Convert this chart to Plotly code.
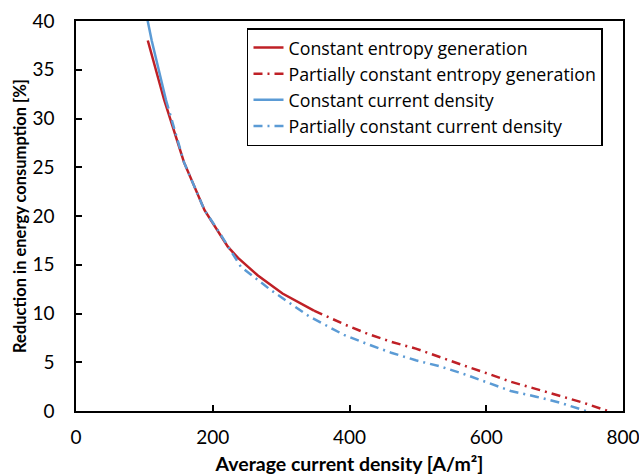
import plotly.graph_objects as go

# Data
ceg_x = [105, 129, 158, 188, 222, 237, 266, 302, 348]
ceg_y = [38.0, 31.9, 25.5, 20.6, 16.85, 15.7, 13.9, 12.05, 10.3]

pceg_x = [348, 392, 427, 461, 497, 531, 566, 601, 636, 671, 707, 742, 778]
pceg_y = [10.3, 8.9, 7.9, 7.1, 6.4, 5.6, 4.7, 3.86, 3.0, 2.3, 1.6, 0.85, 0.0]

ccd_x = [104, 110.7, 131.6]
ccd_y = [40.3, 38.0, 31.9]

pccd_x = [131.6, 158, 188, 207, 241, 285, 341, 392, 427, 461, 497, 531, 567, 602, 636, 673, 708, 746]
pccd_y = [31.9, 25.5, 20.6, 18.6, 14.8, 12.4, 9.7, 7.8, 6.84, 5.98, 5.2, 4.6, 3.8, 2.94, 2.05, 1.47, 0.85, 0.0]

x_ticks = [0, 200, 400, 600, 800]
y_ticks = [0, 5, 10, 15, 20, 25, 30, 35, 40]

RED = "#BF2026"
BLUE = "#5B9BD5"
DASHDOT = "9px,5px,2px,5px"
FONT = "Lato"

fig = go.Figure()
fig.add_trace(go.Scatter(x=ceg_x, y=ceg_y, mode="lines", name="Constant entropy generation",
                         line=dict(color=RED, width=2.5)))
fig.add_trace(go.Scatter(x=pceg_x, y=pceg_y, mode="lines", name="Partially constant entropy generation",
                         line=dict(color=RED, width=2.5, dash=DASHDOT)))
fig.add_trace(go.Scatter(x=ccd_x, y=ccd_y, mode="lines", name="Constant current density",
                         line=dict(color=BLUE, width=2.5)))
fig.add_trace(go.Scatter(x=pccd_x, y=pccd_y, mode="lines", name="Partially constant current density",
                         line=dict(color=BLUE, width=2.5, dash=DASHDOT)))

fig.update_layout(
    width=639, height=475,
    margin=dict(l=76, r=16, t=21, b=64),
    paper_bgcolor="white", plot_bgcolor="white",
    font=dict(family=FONT, size=19, color="black"),
    showlegend=True,
    legend=dict(x=0.3126, y=0.982, xanchor="left", yanchor="top",
                bordercolor="black", borderwidth=1.5, bgcolor="white",
                font=dict(family="Open Sans", size=17.8, color="black"),
                tracegroupgap=0, itemwidth=30),
    xaxis=dict(range=[0, 800], tickvals=x_ticks, ticks="inside", ticklen=6, tickwidth=1.5,
               tickcolor="black", showline=True, linecolor="black", linewidth=1.5, mirror=True,
               showgrid=False, zeroline=False, automargin=False, ticklabelstandoff=8,
               ticklabeloverflow="allow",
               title=dict(text="Average current density [A/m²]", font=dict(family=FONT, size=19.5, weight="bold"),
                          standoff=12)),
    yaxis=dict(range=[0, 40], tickvals=y_ticks, ticks="inside", ticklen=6, tickwidth=1.5,
               tickcolor="black", showline=True, linecolor="black", linewidth=1.5, mirror=True,
               showgrid=False, zeroline=False, automargin=False, ticklabelstandoff=16,
               ticklabeloverflow="allow",
               title=dict(text="Reduction in energy consumption [%]", font=dict(family=FONT, size=16.5, weight="bold"),
                          standoff=2)),
)

fig.write_html("out.html", config={"displayModeBar": False},
               post_script="document.body.style.margin='0';")
